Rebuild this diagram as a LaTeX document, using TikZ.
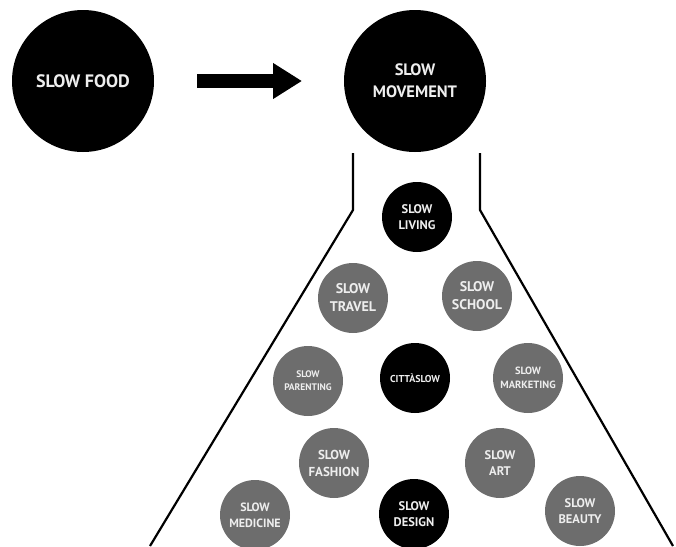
\documentclass[tikz,border=0pt]{standalone}
\usepackage{fontspec}
\setmainfont{PT Sans}
\usetikzlibrary{arrows.meta,positioning}
\definecolor{slowgray}{HTML}{6D6D6D}
\definecolor{slowtext}{HTML}{EEEEEE}

\begin{document}
\begin{tikzpicture}[x=1pt,y=-1pt,
    bigball/.style={circle,fill=black,text=slowtext,minimum size=142pt,
      inner sep=0pt,outer sep=0pt,align=center},
    ball/.style={circle,fill=#1,text=slowtext,minimum size=70pt,
      inner sep=0pt,outer sep=0pt,align=center},
    ball/.default=slowgray,
    fz/.style 2 args={font=\fontsize{#1}{#2}\selectfont\bfseries}]
  \useasboundingbox (0,0) rectangle (676,546);
  \path
  (83,81) node[bigball,fz={18}{22}](food) {SLOW FOOD}
  (415,81) node[bigball,fz={16.5}{22}](movement) {SLOW\\MOVEMENT}
  (417,217) node[ball=black,fz={12.5}{16}](living) {SLOW\\LIVING}
  (353,298) node[ball,fz={14}{18}](travel) {SLOW\\TRAVEL}
  (477,296) node[ball,fz={14}{18}](school) {SLOW\\SCHOOL}
  (308,381) node[ball,fz={9.5}{13}](parenting) {SLOW\\PARENTING}
  (415,378) node[ball=black,fz={10}{13}](citta) {CITTÀSLOW}
  (528,378) node[ball,fz={10.5}{14}](marketing) {SLOW\\MARKETING}
  (334,463) node[ball,fz={13}{17}](fashion) {SLOW\\FASHION}
  (500,463) node[ball,fz={12.5}{16.5}](art) {SLOW\\ART}
  (255,515) node[ball,fz={12}{16}](medicine) {SLOW\\MEDICINE}
  (414,514) node[ball=black,fz={12.5}{16}](design) {SLOW\\DESIGN}
  (580,511) node[ball,fz={12.5}{16}](beauty) {SLOW\\BEAUTY}
  ;

  \draw[line width=14pt,-{Triangle[length=29pt,width=34pt]},
    shorten <=43pt,shorten >=42pt] (food) -- (movement);

  % funnel
  \path
  (353,153) coordinate(ltop)
  (353,210) coordinate(lbend)
  (150,546) coordinate(lfoot)
  (480,153) coordinate(rtop)
  (480,210) coordinate(rbend)
  (673,546) coordinate(rfoot)
  ;
  \draw[line width=2.2pt] (ltop) -- (lbend) -- (lfoot);
  \draw[line width=2.2pt] (rtop) -- (rbend) -- (rfoot);
\end{tikzpicture}
\end{document}
